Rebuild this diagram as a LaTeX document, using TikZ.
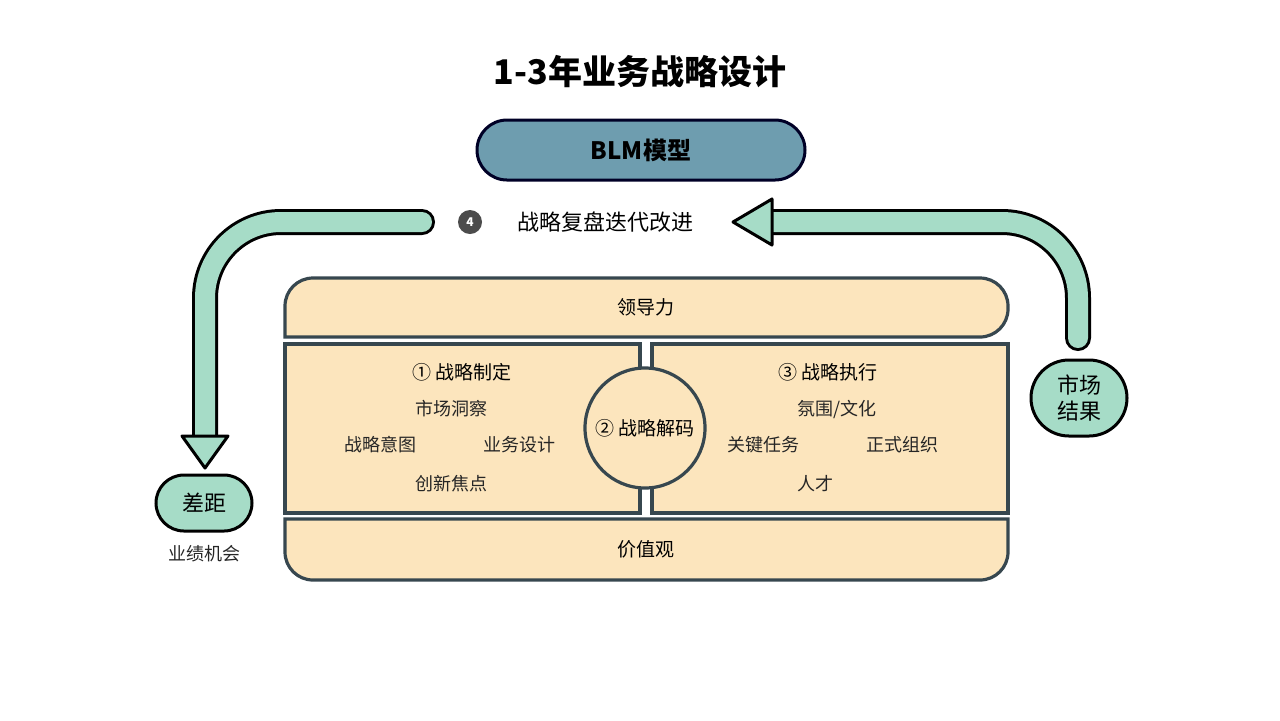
\documentclass[tikz,border=0pt]{standalone}
\usepackage{fontspec}
\setmainfont{Noto Sans CJK SC}
\usetikzlibrary{positioning}
\definecolor{cream}{HTML}{FCE5BD}
\definecolor{slate}{HTML}{37474F}
\definecolor{mint}{HTML}{A6DCC7}
\definecolor{steel}{HTML}{6E9DAF}
\tikzstyle{panel} = [draw=slate, line width=1.6pt, fill=cream]
\tikzstyle{label} = [font=\fontsize{9}{11}\selectfont, text=black!85]
\tikzstyle{head} = [font=\fontsize{9.5}{11}\selectfont, text=black]
\tikzstyle{bubble} = [draw=black, line width=1.5pt, fill=mint, rounded corners=14pt, font=\fontsize{11}{13}\selectfont, align=center, inner sep=2pt]
\tikzstyle{bandout} = [line width=13pt, black, line cap=round]
\tikzstyle{bandin} = [line width=10pt, mint, line cap=round]
\tikzstyle{tip} = [draw=black, line width=1.5pt, fill=mint, line join=round]

\begin{document}
\begin{tikzpicture}[x=0.5pt,y=-0.5pt]
\useasboundingbox (0,0) rectangle (1280,720);

\node (title) at (640,72) [font=\fontsize{17}{20}\selectfont\bfseries] {1-3年业务战略设计};
\node (blm) at (641,150) [draw=black!85!blue, line width=1.5pt, fill=steel, rounded corners=15pt, minimum width=164pt, minimum height=30pt, font=\fontsize{12}{14}\selectfont\bfseries] {BLM模型};

% loop arrows
\coordinate (lstart) at (422,222);
\coordinate (lturn) at (205,222);
\coordinate (lend) at (205,440);
\coordinate (rstart) at (1078,338);
\coordinate (rturn) at (1078,222);
\coordinate (rend) at (768,222);
\draw [bandout, rounded corners=38pt] (lstart) -- (lturn) -- (lend);
\draw [bandin, rounded corners=38pt] (lstart) -- (lturn) -- (lend);
\draw [bandout, rounded corners=38pt] (rstart) -- (rturn) -- (rend);
\draw [bandin, rounded corners=38pt] (rstart) -- (rturn) -- (rend);
\draw [tip] (182,436) -- (228,436) -- (205,468) -- cycle;
\draw [tip] (772,199) -- (772,245) -- (733,222) -- cycle;

\node (four) at (470,222) [circle, fill=black!70, inner sep=0pt, minimum size=12pt, text=white, font=\fontsize{6}{7}\selectfont\bfseries] {4};
\node (review) at (605,222) [font=\fontsize{11}{13}\selectfont] {战略复盘迭代改进};

\node (gap) at (204,503) [bubble, minimum width=48pt, minimum height=28pt] {差距};
\node (chance) [below=3pt of gap, label] {业绩机会};
\node (result) at (1079,398) [bubble, rounded corners=19pt, minimum width=48pt, minimum height=38pt] {市场\\结果};

% house
\draw [panel, rounded corners=14pt] (285,337) -- (285,278) -- (1008,278) -- (1008,337) [sharp corners] -- cycle;
\draw [panel] (285,344) rectangle (640,513);
\draw [panel] (652,344) rectangle (1008,513);
\draw [panel, rounded corners=14pt] (285,519) [sharp corners] -- (1008,519) [rounded corners=14pt] -- (1008,580) -- (285,580) [sharp corners] -- cycle;
\node (decode) at (645,428) [circle, panel, minimum size=60pt, inner sep=0pt, head] {② 战略解码};

\node (lead) at (646,307) [head] {领导力};
\node (value) at (646,549) [head] {价值观};
\node (form) at (462,372) [head] {① 战略制定};
\node (insight) at (451,409) [label] {市场洞察};
\node (intent) at (380,445) [label] {战略意图};
\node (design) at (519,445) [label] {业务设计};
\node (innov) at (451,484) [label] {创新焦点};
\node (exec) at (828,372) [head] {③ 战略执行};
\node (culture) at (837,409) [label] {氛围/文化};
\node (task) at (763,445) [label] {关键任务};
\node (org) at (902,445) [label] {正式组织};
\node (talent) at (815,484) [label] {人才};
\end{tikzpicture}
\end{document}
